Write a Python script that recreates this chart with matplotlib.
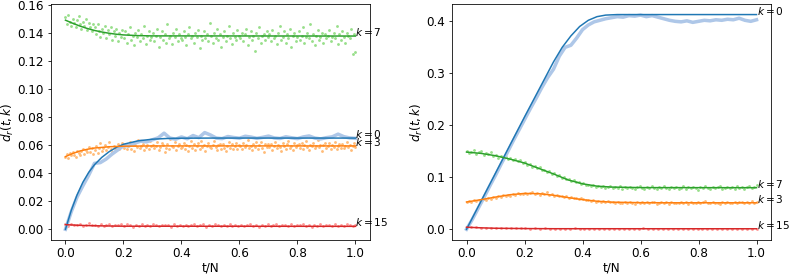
import numpy as np
import matplotlib
matplotlib.use("Agg")
import matplotlib.pyplot as plt

plt.rcParams["font.size"] = 12
plt.rcParams["axes.labelpad"] = 1.5

# ---------------- left panel (values in units of 1e-3) ----------------
left_k7_pts = [
    151, 146, 153, 148, 145, 150, 147, 144, 149, 152, 146, 143, 148, 145, 150, 142, 147, 144, 141, 146,
    144, 139, 146, 141, 137, 143, 140, 145, 136, 142, 139, 144, 135, 141, 138, 143, 134, 140, 137, 142,
    136, 141, 133, 139, 144, 135, 138, 131, 140, 137, 142, 134, 139, 136, 145, 132, 138, 141, 135, 137,
    140, 134, 138, 143, 130, 137, 141, 135, 139, 133, 146, 136, 138, 132, 140, 137, 143, 134, 139, 136,
    135, 141, 137, 131, 139, 144, 136, 138, 133, 140, 137, 142, 129, 138, 135, 141, 136, 139, 134, 147,
    138, 133, 140, 136, 143, 135, 139, 130, 137, 141, 134, 138, 145, 136, 132, 140, 137, 135, 142, 138,
    136, 140, 134, 139, 143, 131, 137, 141, 135, 138, 127, 140, 136, 144, 133, 138, 139, 135, 141, 137,
    139, 134, 142, 136, 138, 132, 140, 145, 135, 137, 141, 133, 139, 136, 143, 130, 138, 140, 134, 137,
    141, 135, 138, 144, 133, 137, 140, 136, 146, 134, 139, 131, 138, 142, 135, 137, 140, 133, 139, 136,
    138, 142, 134, 137, 140, 136, 145, 132, 139, 135, 141, 137, 133, 140, 138, 136, 143, 125, 139, 126,
]
left_k3_pts = [
    51.8, 53.5, 50.9, 54.2, 52.7, 55.1, 53.0, 51.6, 56.0, 54.4, 52.9, 55.8, 57.1, 53.6, 56.5, 54.8, 58.3, 55.2, 57.6, 53.9,
    56.4, 59.1, 54.7, 58.0, 61.2, 55.9, 57.8, 60.3, 56.6, 58.9, 62.4, 57.3, 55.4, 59.7, 58.1, 56.2, 60.9, 57.5, 59.4, 61.8,
    58.2, 60.6, 56.9, 59.3, 62.1, 57.4, 59.8, 55.8, 60.4, 58.7, 63.5, 57.9, 59.5, 61.0, 56.3, 58.8, 60.2, 57.1, 62.8, 59.0,
    60.1, 57.6, 59.4, 62.3, 56.8, 58.5, 61.4, 59.9, 55.2, 58.0, 60.7, 57.3, 64.1, 59.2, 58.4, 61.9, 56.5, 59.6, 60.8, 57.8,
    58.9, 61.5, 57.2, 60.0, 55.9, 59.3, 62.6, 58.1, 60.5, 56.7, 59.7, 61.2, 57.5, 63.0, 58.6, 60.3, 56.1, 59.0, 61.7, 58.3,
    57.9, 60.4, 62.9, 58.7, 56.4, 59.8, 61.1, 57.0, 60.6, 58.2, 55.6, 59.4, 62.2, 58.0, 60.9, 57.4, 59.1, 61.6, 56.9, 60.2,
    59.6, 57.1, 61.3, 58.5, 60.0, 63.6, 57.7, 59.2, 56.2, 60.7, 58.8, 61.9, 57.3, 59.9, 62.4, 58.1, 55.3, 60.5, 58.6, 61.0,
    58.4, 60.8, 56.6, 59.5, 62.0, 57.8, 60.1, 58.9, 55.9, 61.4, 59.3, 57.5, 60.6, 63.2, 58.2, 59.7, 56.8, 61.8, 58.7, 60.3,
    60.9, 58.0, 61.6, 57.2, 59.8, 62.7, 58.6, 56.3, 60.4, 59.1, 61.2, 57.6, 59.4, 63.8, 58.3, 60.0, 55.7, 59.9, 61.5, 57.9,
    59.2, 61.8, 57.4, 60.2, 58.5, 62.5, 56.9, 59.6, 61.0, 58.1, 60.7, 57.7, 59.3, 62.1, 58.8, 60.4, 56.4, 59.0, 61.3, 58.6,
]
left_k15_pts = [
    3.6, 2.4, 4.1, 3.0, 2.7, 3.8, 2.2, 3.3, 4.4, 2.9, 3.1, 2.0, 3.7, 2.6, 3.4, 4.0, 2.5, 3.2, 2.8, 3.9,
    2.3, 3.5, 2.9, 1.8, 3.3, 2.6, 3.9, 2.4, 3.0, 2.1, 3.6, 2.7, 2.2, 3.4, 2.8, 3.1, 1.9, 3.7, 2.5, 3.0,
    2.6, 3.3, 2.0, 2.9, 3.8, 2.3, 2.7, 3.5, 1.7, 3.1, 2.4, 3.6, 2.8, 2.1, 3.2, 2.6, 3.9, 2.2, 3.0, 2.5,
    3.4, 2.1, 2.8, 3.7, 2.4, 3.0, 1.9, 3.3, 2.6, 3.5, 2.2, 2.9, 3.8, 2.3, 3.1, 2.7, 2.0, 3.6, 2.5, 3.2,
    2.8, 3.5, 2.2, 3.0, 1.8, 3.4, 2.6, 3.9, 2.4, 2.9, 3.2, 2.1, 3.7, 2.5, 3.0, 2.3, 3.6, 2.7, 2.0, 3.3,
]
left_k0_noisy = [
    0.0, 12.5, 23.0, 31.0, 38.5, 47.0, 47.5, 50.0, 53.5, 56.5, 59.5, 59.5, 61.5, 62.8, 62.3, 63.8, 65.2,
    68.5, 65.0, 64.2, 65.8, 64.5, 66.8, 65.3, 68.9, 67.2, 65.0, 64.6, 66.1, 65.4, 64.9, 66.3, 65.7, 64.8,
    65.5, 66.4, 65.1, 64.7, 65.9, 65.2, 64.6, 65.8, 66.5, 65.0, 64.4, 65.3, 65.9, 67.8, 66.0, 65.1, 64.8,
]

left_k0_t = [0, .02, .04, .06, .08, .1, .125, .15, .175, .2, .25, .3, .35, .4, .5, 1.0]
left_k0_line = [0, 13.5, 24.5, 33.5, 40.5, 46.0, 51.2, 55.2, 58.3, 60.6, 63.0, 64.2, 64.7, 64.9, 65.0, 65.0]
left_k3_t = [0, .025, .05, .075, .1, .15, .2, .3, 1.0]
left_k3_line = [51.8, 54.0, 55.8, 57.0, 57.9, 58.8, 59.2, 59.4, 59.4]
left_k7_t = [0, .025, .05, .075, .1, .125, .15, .175, .2, .25, .3, 1.0]
left_k7_line = [149.0, 146.8, 144.8, 143.1, 141.7, 140.6, 139.7, 139.0, 138.5, 138.0, 137.8, 137.7]
left_k15_t = [0, .05, .1, .2, 1.0]
left_k15_line = [3.3, 2.8, 2.5, 2.2, 2.1]
left_yticks = [0.00, 0.02, 0.04, 0.06, 0.08, 0.10, 0.12, 0.14, 0.16]

# ---------------- right panel (values in units of 1e-3) ----------------
right_k7_pts = [
    151, 146, 149, 153, 145, 148, 150, 143, 147, 145, 148, 141,
    143, 138, 141, 137, 140, 135, 137, 133, 135, 131, 133, 128,
    129, 124, 126, 120, 122, 117, 119, 114, 115, 110, 112, 107,
    108, 103, 104, 99, 101, 96, 97, 93, 94, 90, 91, 87,
    89, 85, 86, 83, 85, 82, 84, 81, 83, 80, 82, 84,
    79, 82, 80, 83, 78, 81, 79, 82, 80, 77, 81, 83,
    80, 78, 82, 79, 84, 80, 77, 81, 79, 83, 80, 78,
    82, 79, 81, 77, 80, 83, 78, 81, 79, 82, 80, 76,
    81, 79, 83, 80, 78, 82, 79, 81, 84, 78, 80, 82,
    79, 81, 78, 83, 80, 82, 77, 81, 84, 79, 82, 85,
]
right_k3_pts = [
    51.8, 54.2, 52.9, 55.6, 53.7, 57.1, 55.0, 58.3, 56.4, 59.8, 58.0, 61.2,
    60.7, 63.9, 62.5, 65.1, 63.4, 66.8, 64.9, 67.5, 66.0, 69.3, 67.1, 68.6,
    70.4, 67.8, 69.9, 71.2, 68.3, 70.1, 66.9, 69.5, 67.7, 70.8, 66.2, 68.0,
    64.2, 66.9, 63.1, 64.8, 61.7, 63.5, 60.4, 62.2, 59.3, 60.8, 57.9, 59.6,
    58.2, 55.6, 57.0, 54.3, 56.1, 53.4, 55.2, 52.9, 54.0, 51.7, 53.5, 52.1,
    53.0, 50.6, 52.4, 51.3, 49.8, 52.7, 50.9, 53.4, 51.0, 49.5, 52.2, 50.7,
    51.9, 49.9, 52.8, 50.4, 51.6, 53.3, 49.6, 51.2, 52.5, 50.1, 51.8, 48.9,
    52.3, 50.8, 49.7, 51.5, 53.1, 50.3, 51.9, 49.4, 52.6, 51.1, 50.0, 52.9,
    50.5, 51.7, 53.6, 49.8, 51.3, 52.4, 50.2, 51.0, 49.3, 52.1, 50.9, 53.0,
    51.4, 49.7, 52.5, 50.6, 51.8, 53.2, 50.1, 52.7, 51.2, 54.5, 49.9, 51.6,
]
right_k15_pts = [
    4.6, 3.5, 4.0, 2.9, 3.4, 2.5, 3.1, 2.2, 2.7, 1.9,
    2.4, 1.6, 2.1, 1.3, 1.9, 1.2, 1.7, 0.9, 1.5, 1.1,
    1.4, 0.8, 1.6, 1.0, 0.6, 1.3, 0.9, 1.5, 0.7, 1.2,
    0.8, 1.4, 1.0, 0.5, 1.2, 0.9, 1.6, 0.7, 1.1, 1.3,
    0.6, 1.0, 1.5, 0.8, 1.2, 0.4, 1.1, 0.9, 1.4, 0.7,
    1.2, 0.8, 1.3, 1.0, 0.6, 1.5, 0.9, 1.1, 0.7, 1.3,
]
right_k0_noisy = [
    0, 19, 40, 61, 83, 104, 126, 147, 169, 190, 211, 232, 252, 273, 292, 308, 333,
    350, 354, 368, 384, 393, 399, 402, 405, 407, 409, 408, 411, 410, 412, 409, 411, 408,
    405, 402, 400, 399, 401, 398, 400, 402, 401, 403, 402, 404, 403, 406, 402, 400, 403,
]

right_k0_t = [0, .1, .2, .3, .33, .36, .39, .42, .45, .48, .52, 1.0]
right_k0_line = [0, 108, 216, 322, 350, 372, 390, 402, 409, 412, 413, 413]
right_k3_t = [0, .05, .1, .15, .2, .25, .3, .35, .4, .45, .5, .6, .7, 1.0]
right_k3_line = [52.5, 57.0, 62.0, 66.5, 69.0, 68.5, 65.5, 61.0, 57.0, 54.0, 52.2, 51.2, 51.0, 51.0]
right_k7_t = [0, .05, .1, .15, .2, .25, .3, .35, .4, .45, .5, .6, 1.0]
right_k7_line = [148.5, 146.0, 141.5, 135.0, 127.5, 117.0, 106.5, 95.0, 87.5, 83.0, 81.2, 80.2, 80.0]
right_k15_t = [0, .05, .1, .2, .3, 1.0]
right_k15_line = [4.0, 2.8, 2.0, 1.4, 1.1, 1.0]
right_yticks = [0.0, 0.1, 0.2, 0.3, 0.4]

dark = {"k0": "#1f77b4", "k3": "#ff7f0e", "k7": "#2ca02c", "k15": "#d62728"}
light = {"k0": "#aec7e8", "k3": "#ffbb78", "k7": "#98df8a", "k15": "#ff9896"}


def draw_panel(ax, pts, noisy, lines, yticks):
    for key in ["k7", "k3", "k15"]:
        y = np.array(pts[key]) / 1000
        t = np.linspace(0, 1, len(y))
        ax.scatter(t, y, s=8, color=light[key], linewidths=0, zorder=1)
    y0 = np.array(noisy) / 1000
    ax.plot(np.linspace(0, 1, len(y0)), y0, color=light["k0"], lw=3.5, zorder=2)
    for key in ["k0", "k3", "k7", "k15"]:
        t, y = lines[key]
        y = np.array(y) / 1000
        ax.plot(t, y, color=dark[key], lw=1.5, zorder=3)
        ax.text(1.0, y[-1], "$k = %s$" % key[1:], fontsize=10.5)
    ax.set_xlabel("t/N")
    ax.set_ylabel("$d_r(t, k)$")
    ax.set_xticks([0, 0.2, 0.4, 0.6, 0.8, 1.0])
    ax.set_yticks(yticks)


# drawn at 72 dpi so fonts and paddings have the same pixel scale as the original
fig = plt.figure(figsize=(789 / 72, 274 / 72), dpi=72)
ax1 = fig.add_axes([0.0646, 0.124, 0.4043, 0.862])
ax2 = fig.add_axes([0.5729, 0.124, 0.4043, 0.862])

draw_panel(ax1,
           {"k7": left_k7_pts, "k3": left_k3_pts, "k15": left_k15_pts},
           left_k0_noisy,
           {"k0": (left_k0_t, left_k0_line), "k3": (left_k3_t, left_k3_line),
            "k7": (left_k7_t, left_k7_line), "k15": (left_k15_t, left_k15_line)},
           left_yticks)
draw_panel(ax2,
           {"k7": right_k7_pts, "k3": right_k3_pts, "k15": right_k15_pts},
           right_k0_noisy,
           {"k0": (right_k0_t, right_k0_line), "k3": (right_k3_t, right_k3_line),
            "k7": (right_k7_t, right_k7_line), "k15": (right_k15_t, right_k15_line)},
           right_yticks)

fig.savefig("out.png", dpi=72)
